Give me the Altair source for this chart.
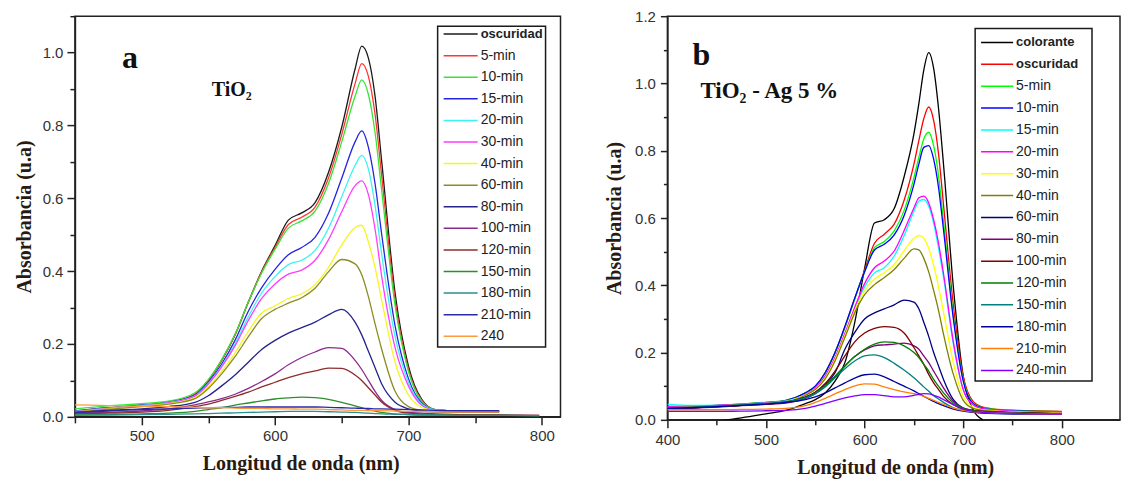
import altair as alt
import pandas as pd

# ---------------- Panel a : TiO2 ----------------
WL_A = [450, 475, 500, 520, 540, 550, 560, 570, 580, 590, 600, 610, 620, 630,
        640, 650, 660, 665, 670, 675, 680, 690, 700, 710, 720, 740, 768, 798]

A_LABELS = ["oscuridad", "5-min", "10-min", "15-min", "20-min", "30-min", "40-min",
            "60-min", "80-min", "100-min", "120-min", "150-min", "180-min", "210-min", "240"]
A_COLORS = ["#1a1a1a", "#ff3535", "#35e635", "#2424e0", "#3df2f2", "#ff3cff", "#f5f522",
            "#8c8c22", "#24248c", "#8c2a8c", "#8f2c2c", "#2a8f2a", "#2a8f8f", "#2a2aa8", "#ff9a3c"]

A_OSC = [.012, .022, .030, .038, .062, .100, .155, .225, .315, .400, .470, .540, .560, .588,
         .670, .795, .955, 1.018, .985, .880, .700, .340, .140, .048, .020, .016, .015, None]
A_5 = [.016, .025, .032, .040, .062, .100, .155, .225, .315, .398, .465, .528, .548, .576,
       .655, .775, .915, .970, .935, .830, .660, .320, .130, .045, .020, .016, .015, None]
A_10 = [.022, .030, .036, .043, .066, .102, .157, .226, .315, .395, .460, .518, .538, .565,
        .640, .755, .880, .925, .885, .780, .620, .305, .125, .043, .020, .016, .015, None]
A_15 = [.016, .025, .032, .040, .060, .095, .145, .210, .290, .355, .405, .445, .465, .493,
        .558, .655, .755, .785, .740, .640, .500, .250, .105, .038, .019, .016, .015, None]
A_20 = [.015, .024, .031, .039, .058, .092, .140, .200, .275, .340, .385, .418, .430, .457,
        .517, .604, .690, .718, .680, .580, .445, .220, .095, .035, .019, .016, .015, None]
A_30 = [.014, .023, .030, .038, .057, .090, .137, .195, .265, .325, .365, .392, .403, .430,
        .486, .563, .635, .648, .610, .515, .385, .190, .085, .032, .018, .016, .015, None]
A_40 = [.013, .022, .029, .036, .053, .083, .125, .175, .235, .285, .305, .325, .338, .363,
        .410, .472, .520, .526, .480, .410, .320, .150, .060, .026, .017, .015, .015, None]
A_60 = [.013, .021, .028, .035, .050, .078, .118, .165, .220, .270, .295, .312, .327, .353,
        .398, .432, .420, .390, .330, .255, .185, .070, .028, .018, .015, .014, .014, None]
A_80 = [.012, .018, .022, .028, .040, .058, .085, .115, .150, .185, .210, .230, .245, .260,
        .280, .295, .260, .225, .180, .135, .090, .040, .022, .016, .014, .013, .013, None]
A_100 = [.010, .012, .016, .022, .033, .041, .050, .062, .078, .097, .118, .143, .163, .178,
         .190, .188, .155, .130, .100, .070, .045, .020, .012, .010, .008, .006, .005, .004]
A_120 = [.008, .010, .013, .018, .028, .035, .045, .056, .068, .082, .095, .108, .118, .126,
         .134, .133, .115, .100, .080, .060, .040, .018, .010, .008, .007, .006, .005, .004]
A_150 = [.005, .006, .008, .010, .015, .020, .025, .032, .038, .044, .049, .052, .054, .053,
         .048, .040, .030, .025, .020, .016, .012, .008, .006, .005, .005, .004, .004, .003]
A_180 = [.004, .005, .006, .007, .008, .009, .010, .011, .012, .013, .014, .015, .015, .015,
         .014, .013, .012, .011, .010, .009, .008, .007, .006, .005, .005, .004, .004, .003]
A_210 = [.012, .016, .020, .022, .024, .025, .026, .026, .027, .027, .027, .027, .027, .027,
         .026, .025, .024, .023, .023, .022, .022, .021, .020, .019, .018, .017, .017, None]
A_240 = [.033, .031, .029, .028, .026, .025, .025, .024, .023, .023, .022, .022, .021, .021,
         .020, .019, .018, .018, .017, .017, .017, .016, .015, .015, .014, .013, .013, None]
A_SERIES = [A_OSC, A_5, A_10, A_15, A_20, A_30, A_40, A_60, A_80, A_100, A_120,
            A_150, A_180, A_210, A_240]

# ---------------- Panel b : TiO2 - Ag 5 % ----------------
WL_B = [400, 425, 450, 475, 500, 520, 540, 550, 560, 570, 580, 590, 600, 610, 620, 630,
        640, 650, 655, 660, 665, 670, 675, 680, 690, 700, 710, 720, 740, 770, 800]

B_LABELS = ["colorante", "oscuridad", "5-min", "10-min", "15-min", "20-min", "30-min",
            "40-min", "60-min", "80-min", "100-min", "120-min", "150-min", "180-min",
            "210-min", "240-min"]
B_COLORS = ["#000000", "#ff0000", "#00ff00", "#0000ff", "#00ffff", "#ff00ff", "#ffff00",
            "#808000", "#000080", "#800080", "#800000", "#008000", "#008080", "#0000a0",
            "#ff8000", "#8000ff"]

B_COL = [None, None, -.004, .006, .018, .028, .048, .060, .080, .115, .170, .290, .450, .585,
         .595, .628, .722, .850, .940, 1.040, 1.092, 1.045, .925, .760, .395, .130, .030,
         .000, None, None, None]
B_OSC = [.038, .040, .043, .047, .052, .058, .080, .100, .140, .200, .275, .360, .445, .525,
         .552, .582, .652, .760, .830, .895, .930, .890, .790, .640, .340, .130, .055, .038,
         .030, .027, .025]
B_5 = [.038, .040, .043, .047, .052, .058, .080, .100, .140, .200, .275, .360, .440, .512,
       .530, .562, .622, .720, .780, .835, .855, .815, .725, .590, .310, .120, .050, .036,
       .029, .026, .024]
B_10 = [.037, .039, .042, .046, .051, .057, .080, .100, .140, .200, .278, .362, .440, .505,
        .522, .550, .607, .700, .760, .810, .815, .775, .690, .565, .300, .115, .048, .035,
        .028, .025, .023]
B_15 = [.046, .043, .044, .047, .051, .056, .076, .095, .130, .185, .255, .330, .395, .437,
        .452, .487, .547, .620, .650, .655, .635, .585, .510, .425, .225, .090, .045, .033,
        .027, .024, .022]
B_20 = [.040, .040, .043, .046, .050, .055, .076, .095, .130, .185, .257, .335, .405, .452,
        .472, .502, .562, .630, .660, .665, .645, .595, .525, .435, .232, .090, .045, .033,
        .027, .024, .022]
B_30 = [.036, .038, .041, .045, .049, .054, .074, .092, .125, .180, .250, .325, .385, .418,
        .438, .462, .502, .540, .548, .540, .510, .460, .395, .320, .170, .070, .038, .030,
        .025, .022, .020]
B_40 = [.035, .037, .040, .044, .048, .053, .073, .090, .122, .175, .245, .318, .372, .402,
        .423, .447, .480, .508, .505, .480, .440, .385, .325, .255, .135, .058, .034, .028,
        .024, .021, .019]
B_60 = [.034, .036, .039, .043, .047, .052, .068, .082, .105, .140, .210, .260, .300, .318,
        .330, .342, .356, .350, .330, .290, .248, .200, .160, .120, .060, .035, .028, .025,
        .022, .020, .018]
B_80 = [.033, .035, .038, .042, .046, .050, .064, .078, .100, .128, .160, .188, .208, .220,
        .223, .225, .228, .220, .210, .190, .170, .145, .120, .095, .055, .035, .028, .025,
        .022, .020, .018]
B_100 = [.034, .036, .039, .043, .047, .052, .066, .082, .108, .145, .190, .232, .258, .272,
         .277, .275, .258, .215, .190, .165, .135, .110, .090, .070, .045, .032, .027, .024,
         .022, .020, .018]
B_120 = [.035, .037, .040, .044, .048, .053, .066, .080, .102, .130, .160, .188, .210, .225,
         .232, .230, .220, .200, .185, .165, .145, .120, .100, .080, .050, .034, .027, .024,
         .021, .019, .017]
B_150 = [.036, .038, .041, .045, .049, .054, .065, .078, .098, .125, .152, .175, .190, .193,
         .185, .168, .148, .125, .112, .098, .085, .072, .062, .052, .036, .028, .024, .022,
         .020, .018, .017]
B_180 = [.034, .036, .039, .043, .047, .052, .060, .068, .080, .095, .110, .124, .134, .136,
         .128, .114, .100, .086, .078, .070, .062, .055, .048, .042, .032, .026, .022, .020,
         .018, .017, .016]
B_210 = [.030, .030, .030, .031, .032, .034, .042, .052, .064, .077, .090, .101, .107, .106,
         .098, .090, .083, .078, .075, .070, .064, .058, .052, .046, .035, .028, .024, .022,
         .020, .018, .017]
B_240 = [.025, .025, .025, .026, .027, .028, .034, .041, .049, .057, .065, .071, .075, .075,
         .072, .068, .068, .073, .076, .078, .077, .073, .068, .060, .045, .032, .025, .022,
         .020, .018, .017]
B_SERIES = [B_COL, B_OSC, B_5, B_10, B_15, B_20, B_30, B_40, B_60, B_80, B_100, B_120,
            B_150, B_180, B_210, B_240]

FONT_SANS = "Liberation Sans, Arial, sans-serif"
FONT_SERIF = "Liberation Serif, Times New Roman, DejaVu Serif, serif"
TITLE_COLOR = "#2a1a10"


def long_table(wl, labels, colors, series):
    rows = []
    for lab, col, vals in zip(labels, colors, series):
        for w, v in zip(wl, vals):
            if v is not None:
                rows.append({"serie": lab, "col": col, "wl": w, "ab": v})
    return pd.DataFrame(rows)


def legend_table(labels, colors, top, step, x1, x2, xt, n_bold):
    n = len(labels)
    return pd.DataFrame({
        "lab": labels, "col": colors,
        "ab": [top - i * step for i in range(n)],
        "wl": [x1] * n, "wl2": [x2] * n, "wlt": [xt] * n,
        "bold": [i < n_bold for i in range(n)],
    })


def panel(df, leg, box, xdom, ydom, w, h, xvals, yvals, xt, yt, ann, xtitle_x):
    xs = alt.Scale(domain=xdom, nice=False, zero=False)
    ys = alt.Scale(domain=ydom, nice=False, zero=False)
    xax = alt.Axis(values=xvals, format="d", title="Longitud de onda (nm)",
                   labelExpr="datum.value % 100 === 0 ? datum.label : ''",
                   tickSize={"condition": {"test": "datum.value % 100 === 0", "value": xt[0]},
                             "value": xt[1]},
                   labelPadding=xt[2], titlePadding=xt[3], labelFlush=False,
                   labelOverlap=False, grid=False, titleX=xtitle_x)
    yax = alt.Axis(values=yvals, format=".1f", title="Absorbancia (u.a)",
                   labelExpr="round(datum.value * 10) % 2 === 0 ? datum.label : ''",
                   tickSize={"condition": {"test": "round(datum.value * 10) % 2 === 0",
                                           "value": yt[0]}, "value": yt[1]},
                   labelPadding=yt[2], titlePadding=yt[3], labelFlush=False,
                   labelOverlap=False, grid=False)

    def X(field):
        return alt.X(field, type="quantitative", scale=xs, axis=xax)

    def Y(field):
        return alt.Y(field, type="quantitative", scale=ys, axis=yax)

    lines = alt.Chart(df).mark_line(strokeWidth=1.3, clip=True, interpolate="monotone").encode(
        x=X("wl"), y=Y("ab"), color=alt.Color("col:N", scale=None), detail="serie:N")

    box_df = pd.DataFrame({"wl": [box[0]], "wl2": [box[1]], "ab": [box[2]], "ab2": [box[3]]})
    rect = alt.Chart(box_df).mark_rect(fill="white", stroke="#1a1a1a", strokeWidth=1.5).encode(
        x=X("wl"), x2="wl2", y=Y("ab"), y2="ab2")
    rules = alt.Chart(leg).mark_rule(strokeWidth=1.5).encode(
        x=X("wl"), x2="wl2", y=Y("ab"), color=alt.Color("col:N", scale=None))
    txt_n = alt.Chart(leg[~leg["bold"]]).mark_text(
        align="left", baseline="middle", font=FONT_SANS, fontSize=14, color="#222",
        dx=1).encode(x=X("wlt"), y=Y("ab"), text="lab:N")
    txt_b = alt.Chart(leg[leg["bold"]]).mark_text(
        align="left", baseline="middle", font=FONT_SANS, fontSize=13, fontWeight="bold",
        color="#222", dx=1).encode(x=X("wlt"), y=Y("ab"), text="lab:N")

    layers = [lines, rect, rules, txt_n, txt_b]
    for (t, px, py, fs) in ann:
        layers.append(alt.Chart(pd.DataFrame({"t": [t]})).mark_text(
            align="left", baseline="alphabetic", font=FONT_SERIF, fontSize=fs,
            fontWeight="bold", color="#111").encode(
            text="t:N", x=alt.value(px), y=alt.value(py)))
    return alt.layer(*layers).properties(width=w, height=h)


df_a = long_table(WL_A, A_LABELS, A_COLORS, A_SERIES)
df_b = long_table(WL_B, B_LABELS, B_COLORS, B_SERIES)

leg_a = legend_table(A_LABELS, A_COLORS, 1.0508, 0.05926, 726.4, 751.9, 753.4, 1)
leg_b = legend_table(B_LABELS, B_COLORS, 1.1218, 0.0650, 718.1, 750.6, 752.6, 2)

pa = panel(df_a, leg_a, (721.9, 802.8, 1.0727, 0.192), [450, 814], [0, 1.1], 486, 401,
           list(range(450, 801, 50)), [round(i * 0.1, 1) for i in range(0, 12)],
           (8, 6, 4, 10), (8, 5, 4, 8),
           [("a", 47, 52, 32), ("TiO₂", 137, 80, 20)], 226)
pb = panel(df_b, leg_b, (712.1, 830.6, 1.1633, 0.1158), [400, 859], [0, 1.2], 453, 404,
           list(range(400, 801, 50)), [round(i * 0.1, 1) for i in range(0, 13)],
           (8, 5, 5, 10), (7, 4, 5, 10),
           [("b", 25, 49, 32), ("TiO₂ - Ag 5 %", 33, 82, 23)], 228)

chart = alt.hconcat(pa, pb, spacing=107, bounds="flush").resolve_scale(
    x="independent", y="independent", color="independent"
).configure_view(stroke="#222", strokeWidth=1.5).configure_axis(
    domainColor="#222", domainWidth=1.5, tickColor="#222", tickWidth=1.5,
    labelFont=FONT_SANS, labelFontSize=15, labelColor="#333",
    titleFont=FONT_SERIF, titleFontSize=20, titleFontWeight="bold", titleColor=TITLE_COLOR
).properties(
    padding={"left": 13, "top": 8, "right": 0, "bottom": 0},
    background="white"
)

chart.save("out.html", embed_options={"renderer": "svg", "actions": False})
